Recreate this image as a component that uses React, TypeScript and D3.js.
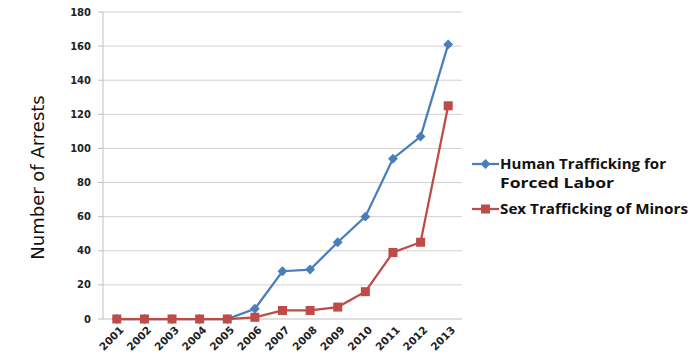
import React from "react";
import * as d3 from "d3";

const years = ["2001","2002","2003","2004","2005","2006","2007","2008","2009","2010","2011","2012","2013"];
const forcedLabor = [0,0,0,0,0,6,28,29,45,60,94,107,161];
const sexMinors = [0,0,0,0,0,1,5,5,7,16,39,45,125];
const yTicks = [0,20,40,60,80,100,120,140,160,180];
const seriesNames = ["Human Trafficking for|Forced Labor", "Sex Trafficking of Minors"];
const colors = ["#4a7ebb", "#be4b48"];

export default function App() {
  const W = 700, H = 360;
  const left = 103, right = 462, top = 12, bottom = 319;
  const x = d3.scaleBand<string>().domain(years).range([left, right]);
  const y = d3.scaleLinear().domain([0, 180]).range([bottom, top]);
  const cx = (yr: string) => (x(yr) as number) + x.bandwidth() / 2;
  const line = d3.line<number>().x((_, i) => cx(years[i])).y((v) => y(v));
  const font = "Tahoma, 'DejaVu Sans', sans-serif";
  const lfont = "'Open Sans', 'DejaVu Sans', sans-serif";
  const legendWidths = [[166, 114], [188]];
  return (
    <svg width={W} height={H} style={{ position: "absolute", left: 0, top: 0, background: "#fff" }}>
      {yTicks.map((t) => (
        <g key={t}>
          {t > 0 && <line x1={left} x2={right} y1={y(t)} y2={y(t)} stroke="#d0d0d0" strokeWidth={1} />}
          <line x1={left - 5} x2={left} y1={y(t)} y2={y(t)} stroke="#bfbfbf" />
          <text x={left - 12} y={y(t)} dy="0.35em" textAnchor="end" fontFamily={font} fontWeight="bold" fontSize={10} fill="#222">{t}</text>
        </g>
      ))}
      <line x1={left} x2={left} y1={top} y2={bottom} stroke="#bfbfbf" />
      <line x1={left} x2={right} y1={bottom} y2={bottom} stroke="#bfbfbf" />
      {years.map((yr) => (
        <text key={yr} transform={`translate(${cx(yr) + 5},${bottom + 9}) rotate(-45)`} textAnchor="end" dy="0.35em"
          fontFamily={font} fontWeight="bold" fontSize={10.5} fill="#222">{yr}</text>
      ))}
      <text transform={`translate(44,${(top + bottom) / 2 + 12}) rotate(-90)`} textAnchor="middle"
        fontFamily={font} fontSize={18} fill="#111">Number of Arrests</text>
      <path d={line(forcedLabor) || ""} fill="none" stroke={colors[0]} strokeWidth={2.25} />
      {forcedLabor.map((v, i) => (
        <rect key={i} x={cx(years[i]) - 3.5} y={y(v) - 3.5} width={7} height={7} fill={colors[0]}
          transform={`rotate(45,${cx(years[i])},${y(v)})`} />
      ))}
      <path d={line(sexMinors) || ""} fill="none" stroke={colors[1]} strokeWidth={2.25} />
      {sexMinors.map((v, i) => (
        <rect key={i} x={cx(years[i]) - 4.5} y={y(v) - 4.5} width={9} height={9} fill={colors[1]} />
      ))}
      <g>
        <line x1={472} x2={499} y1={164} y2={164} stroke={colors[0]} strokeWidth={2.25} />
        <rect x={482} y={160.5} width={7} height={7} fill={colors[0]} transform="rotate(45,485.5,164)" />
        {seriesNames[0].split("|").map((s, i) => (
          <text key={i} x={500} y={164 + i * 19} dy="0.35em" fontFamily={lfont} fontWeight="bold" fontSize={15}
            textLength={legendWidths[0][i]} lengthAdjust="spacingAndGlyphs" fill="#111">{s}</text>
        ))}
        <line x1={472} x2={499} y1={209} y2={209} stroke={colors[1]} strokeWidth={2.25} />
        <rect x={481} y={204.5} width={9} height={9} fill={colors[1]} />
        <text x={500} y={209} dy="0.35em" fontFamily={lfont} fontWeight="bold" fontSize={15}
          textLength={legendWidths[1][0]} lengthAdjust="spacingAndGlyphs" fill="#111">{seriesNames[1]}</text>
      </g>
    </svg>
  );
}
